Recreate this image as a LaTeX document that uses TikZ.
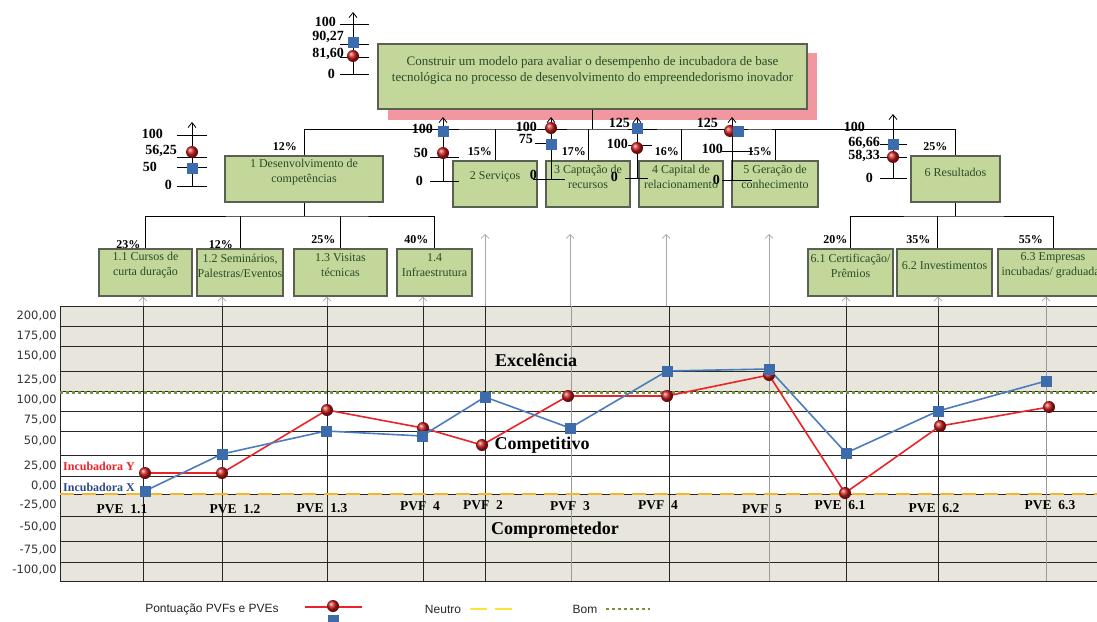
\documentclass[tikz,border=0pt]{standalone}
\usepackage{fontspec}
\setmainfont{Liberation Serif}
\setsansfont{Liberation Sans}
\newfontfamily\axisfont{DejaVu Sans}
\usetikzlibrary{arrows.meta,positioning}

\definecolor{boxfill}{RGB}{196,215,155}
\definecolor{boxline}{RGB}{90,96,84}
\definecolor{boxtext}{RGB}{40,75,40}
\definecolor{shadowpink}{RGB}{242,150,160}
\definecolor{chartgray}{RGB}{232,230,220}
\definecolor{bomgreen}{RGB}{118,146,60}
\definecolor{neutroorange}{RGB}{247,182,40}
\definecolor{neutroyellow}{RGB}{250,228,60}
\definecolor{incyred}{RGB}{235,35,40}
\definecolor{incxblue}{RGB}{75,125,190}
\definecolor{sqblue}{RGB}{60,108,172}
\definecolor{labblue}{RGB}{45,75,135}
\definecolor{ballred}{RGB}{200,25,25}

\newcommand{\redball}[1]{\shade[ball color=ballred] #1 circle (6pt);}
\newcommand{\bluesq}[1]{\fill[sqblue] #1 ++(-5.5,-5.5) rectangle ++(11,11);}

\begin{document}
\begin{tikzpicture}[x=1pt, y=-1pt,
    box/.style={rectangle, draw=boxline, line width=1.2pt, fill=boxfill, inner sep=0pt},
    boxtxt/.style={font=\fontsize{12}{15}\selectfont, text=boxtext, align=center, anchor=center, yshift=7pt},
    pct/.style={font=\fontsize{12}{14}\selectfont\bfseries, inner sep=0pt},
    scalelab/.style={font=\fontsize{14}{15}\selectfont\bfseries, inner sep=0pt, anchor=east},
    ptlab/.style={font=\fontsize{13.5}{15}\selectfont\bfseries, inner sep=0pt},
    zonelab/.style={font=\fontsize{18}{20}\selectfont\bfseries, inner sep=0pt},
    inclab/.style={font=\fontsize{12}{14}\selectfont\bfseries, inner sep=0pt, anchor=west},
    axislab/.style={font=\axisfont\fontsize{11.5}{13}\selectfont, text=black!80, anchor=east, inner sep=0pt},
    legendlab/.style={font=\sffamily\fontsize{12}{14}\selectfont, text=black!85, inner sep=0pt},
    conn/.style={line width=1pt, black},
    tickline/.style={line width=0.8pt},
    gridline/.style={line width=0.8pt, black!85},
    scalearrow/.style={-{Straight Barb[length=5pt,width=8pt]}, line width=0.8pt},
    uparrow/.style={-{Straight Barb[length=4pt,width=8pt]}, line width=0.7pt, gray!70},
    redline/.style={incyred, line width=1.6pt},
    blueline/.style={incxblue, line width=1.6pt},
    bomline/.style={bomgreen, line width=3pt, dash pattern=on 3pt off 3pt},
    neutroline/.style={neutroorange, line width=2.5pt, dash pattern=on 14pt off 8pt}
]
\useasboundingbox (0,0) rectangle (1097,621);

% Chart area
\fill[chartgray] (60,306) rectangle (1097,581);
\fill[white] (60,391) rectangle (1097,494);
\foreach \y in {306,326,346,371,391,411,431,455,476,494,516,541,562,581}
    \draw[gridline] (60,\y) -- (1097,\y);
\foreach \x in {60,143,222,327,423,485,669,846,938}
    \draw[gridline, line width=1pt] (\x,306) -- (\x,581);
\foreach \x in {571,769,1046}
    \draw[gridline, line width=1pt, black!40] (\x,306) -- (\x,581);

% Reference lines
\draw[bomline] (60,392) -- (1097,392);
\draw[neutroline] (60,494) -- (1097,494);

% Axis labels
\foreach \y/\t in {316/{200,00},336/{175,00},356/{150,00},380/{125,00},400/{100,00},420/{75,00},441/{50,00},466/{25,00},486/{0,00},505/{-25,00},527/{-50,00},550/{-75,00},570/{-100,00}}
    \node[axislab] (ax\y) at (57,\y) {\t};

% Zones
\node[zonelab] (excel) at (536,360) {Excelência};
\node[zonelab] (compet) at (542,445) {Competitivo};
\node[zonelab] (comprom) at (555,530) {Comprometedor};
\node[inclab, text=incyred] (incy) at (63,466) {Incubadora Y};
\node[inclab, text=labblue] (incx) at (63,487) {Incubadora X};

% Points of view
\foreach \x/\y/\t [count=\i] in {122/509/PVE~~1.1, 235/509/PVE~~1.2, 322/508/PVE~~1.3, 420/506/PVF~~4, 483/505/PVF~~2, 570/506/PVF~~3, 658/505/PVF~~4, 762/509/PVF~~5, 840/505/PVE~~6.1, 934/508/PVE~~6.2, 1050/505/PVE~~6.3}
    \node[ptlab] (pv\i) at (\x,\y) {\t};

% Scores
\draw[redline] (145,473) -- (222,473) -- (327,410) -- (423,428) -- (482,445) -- (568,396) -- (667,396) -- (769,375) -- (845,493) -- (940,426) -- (1049,407);
\draw[blueline] (145,491) -- (222,454) -- (326,431) -- (422,436) -- (485,397) -- (570,428) -- (667,371) -- (769,369) -- (846,453) -- (938,411) -- (1046,381);
\foreach \x/\y in {145/473,222/473,327/410,423/428,482/445,568/396,667/396,769/375,845/493,940/426,1049/407}
    {\redball{(\x,\y)}}
\foreach \x/\y in {145/491,222/454,326/431,422/436,485/397,570/428,667/371,769/369,846/453,938/411,1046/381}
    {\bluesq{(\x,\y)}}

% Goal
\fill[shadowpink] (388,53) rectangle (817,120);
\node[box, line width=2.5pt, minimum width=429, minimum height=65,
    label={[boxtxt, font=\fontsize{13}{16}\selectfont, yshift=-0.5pt]center:{Construir um modelo para avaliar o desempenho de incubadora de base\\tecnológica no processo de desenvolvimento do empreendedorismo inovador}}] (goal) at (592.5,76.5) {};

% Fundamental points of view
\node[box, minimum width=158, minimum height=46, label={[boxtxt]center:{1 Desenvolvimento de\\competências}}] (c1) at (304,179) {};
\node[box, minimum width=84, minimum height=46, label={[boxtxt]center:{2 Serviços}}] (c2) at (495,184) {};
\node[box, minimum width=84, minimum height=46, label={[boxtxt]center:{3 Captação de\\recursos}}] (c3) at (588,184) {};
\node[box, minimum width=84, minimum height=46, label={[boxtxt]center:{4 Capital de\\relacionamento}}] (c4) at (681,184) {};
\node[box, minimum width=86, minimum height=46, label={[boxtxt]center:{5 Geração de\\conhecimento}}] (c5) at (775,184) {};
\node[box, minimum width=89, minimum height=46, label={[boxtxt]center:{6 Resultados}}] (c6) at (955.5,179) {};

% Elementary points of view
\node[box, minimum width=93, minimum height=47, label={[boxtxt]center:{1.1 Cursos de\\curta duração}}] (s11) at (145.5,272.5) {};
\node[box, minimum width=86, minimum height=47, label={[boxtxt]center:{1.2 Seminários,\\Palestras/Eventos}}] (s12) at (240,272.5) {};
\node[box, minimum width=93, minimum height=47, label={[boxtxt]center:{1.3 Visitas\\técnicas}}] (s13) at (340.5,272.5) {};
\node[box, minimum width=75, minimum height=47, label={[boxtxt]center:{1.4\\Infraestrutura}}] (s14) at (434.5,272.5) {};
\node[box, minimum width=85, minimum height=47, label={[boxtxt]center:{6.1 Certificação/\\Prêmios}}] (s61) at (850.5,272.5) {};
\node[box, minimum width=95, minimum height=47, label={[boxtxt]center:{6.2 Investimentos}}] (s62) at (944.5,272.5) {};
\node[box, minimum width=110, minimum height=47, label={[boxtxt]center:{6.3 Empresas\\incubadas/ graduadas}}] (s63) at (1053,272.5) {};

% Tree connectors
\coordinate (bus) at (592.5,129);
\draw[conn] (goal.south) -- (bus);
\draw[conn] (c1.north) |- (bus) -| (c6.north);
\foreach \n in {c2,c3,c4,c5}
    \draw[conn] (\n.north) -- (\n.north |- bus);
\coordinate (bus1) at (304,216);
\draw[conn] (c1.south) -- (bus1);
\draw[conn] (s11.north) |- (bus1) -| (s14.north);
\foreach \n in {s12,s13}
    \draw[conn] (\n.north) -- (\n.north |- bus1);
\coordinate (bus6) at (955.5,216);
\draw[conn] (c6.south) -- (bus6);
\draw[conn] (s61.north) |- (bus6) -| (s63.north);
\coordinate (s62top) at ([xshift=-7.5pt]s62.north);
\draw[conn] (s62top) -- (s62top |- bus6);

% Weights
\node[pct, above left=5pt and 7pt of c1.north] (pc1) {12\%};
\node[pct, above left=5pt and 3pt of c2.north] (pc2) {15\%};
\node[pct, above left=5pt and 2pt of c3.north] (pc3) {17\%};
\node[pct, above left=5pt and 2pt of c4.north] (pc4) {16\%};
\node[pct, above left=5pt and 3pt of c5.north] (pc5) {15\%};
\node[pct, above left=5pt and 8pt of c6.north] (pc6) {25\%};
\node[pct, above left=0pt and 5pt of s11.north] (ps11) {23\%};
\node[pct, above left=0pt and 7pt of s12.north] (ps12) {12\%};
\node[pct, above left=5pt and 5pt of s13.north] (ps13) {25\%};
\node[pct, above left=5pt and 6pt of s14.north] (ps14) {40\%};
\node[pct, above left=5pt and 3pt of s61.north] (ps61) {20\%};
\node[pct, above left=5pt and 14pt of s62.north] (ps62) {35\%};
\node[pct, above left=5pt and 10pt of s63.north] (ps63) {55\%};

% Arrows from the chart
\foreach \x/\n in {143/s11, 222/s12, 327/s13, 423/s14, 846/s61, 938/s62, 1046/s63} {
    \coordinate (foot) at (\x,306);
    \draw[uparrow] (foot) -- (foot |- \n.south);
}
\foreach \x in {485,570,666,769} {
    \coordinate (foot) at (\x,306);
    \coordinate (tip) at (\x,234);
    \draw[uparrow] (foot) -- (tip);
}

% Scale of the goal
\draw[scalearrow] (353,74) -- (353,12);
\foreach \y in {24,44,57,74} \draw[tickline] (340,\y) -- (369,\y);
\node[scalelab] (g100) at (336,22) {100};
\node[scalelab] (g9027) at (344,37) {90,27};
\node[scalelab] (g8160) at (344,54) {81,60};
\node[scalelab] (g0) at (335,74) {0};
\bluesq{(353,42)}
\redball{(353,56)}

% Scale 1
\draw[scalearrow] (192,186) -- (192,122);
\foreach \y in {135,157,167,186} \draw[tickline] (177,\y) -- (207,\y);
\node[scalelab] (a100) at (163,134) {100};
\node[scalelab] (a5625) at (177,151) {56,25};
\node[scalelab] (a50) at (157,167) {50};
\node[scalelab] (a0) at (172,185) {0};
\redball{(192,152)}
\bluesq{(192,168)}

% Scale 2
\draw[scalearrow] (443,181) -- (443,117);
\foreach \y in {129,157,181} \draw[tickline] (430,\y) -- (459,\y);
\node[scalelab] (b100) at (433,129) {100};
\node[scalelab] (b50) at (428,153) {50};
\node[scalelab] (b0) at (423,181) {0};
\bluesq{(443,131)}
\redball{(443,153)}

% Scale 3
\draw[scalearrow] (551,179) -- (551,117);
\draw[tickline] (537,129) -- (567,129);
\draw[tickline] (535,143) -- (557,143);
\draw[tickline] (533,179) -- (565,179);
\node[scalelab] (d100) at (537,127) {100};
\node[scalelab] (d75) at (533,139) {75};
\node[scalelab] (d0) at (537,175) {0};
\redball{(551,128)}
\bluesq{(551,144)}

% Scale 4
\draw[scalearrow] (637,178) -- (637,117);
\draw[tickline] (628,129) -- (657,129);
\draw[tickline] (628,145) -- (652,145);
\draw[tickline] (625,178) -- (648,178);
\node[scalelab] (e125) at (630,123) {125};
\node[scalelab] (e100) at (628,144) {100};
\node[scalelab] (e0) at (618,177) {0};
\bluesq{(637,128)}
\redball{(637,148)}

% Scale 5
\draw[scalearrow] (732,180) -- (732,117);
\draw[tickline] (708,129) -- (748,129);
\draw[tickline] (722,151) -- (753,151);
\draw[tickline] (722,180) -- (752,180);
\node[scalelab] (f125) at (718,123) {125};
\node[scalelab] (f100) at (723,149) {100};
\node[scalelab] (f0) at (720,180) {0};
\redball{(730,131)}
\bluesq{(738,131)}

% Scale 6
\draw[scalearrow] (893,178) -- (893,114);
\foreach \y in {144,157,178} \draw[tickline] (880,\y) -- (907,\y);
\node[scalelab] (h100) at (865,127) {100};
\node[scalelab] (h6666) at (880,143) {66,66};
\node[scalelab] (h5833) at (880,156) {58,33};
\node[scalelab] (h0) at (873,178) {0};
\bluesq{(893,144)}
\redball{(893,157)}

% Legend
\node[legendlab] (legpts) at (212,609) {Pontuação PVFs e PVEs};
\coordinate (legr1) at (305,607);
\coordinate (legr2) at (362,607);
\draw[redline] (legr1) -- (legr2);
\redball{(333,606)}
\bluesq{(333,620)}
\node[legendlab] (legneu) at (443,609) {Neutro};
\coordinate (legn1) at (470,609);
\coordinate (legn2) at (512,609);
\draw[neutroyellow, line width=2.5pt, dash pattern=on 17pt off 8pt] (legn1) -- (legn2);
\node[legendlab] (legbom) at (585,609) {Bom};
\coordinate (legb1) at (606,609);
\coordinate (legb2) at (650,609);
\draw[bomline, line width=2.5pt] (legb1) -- (legb2);

\end{tikzpicture}
\end{document}
